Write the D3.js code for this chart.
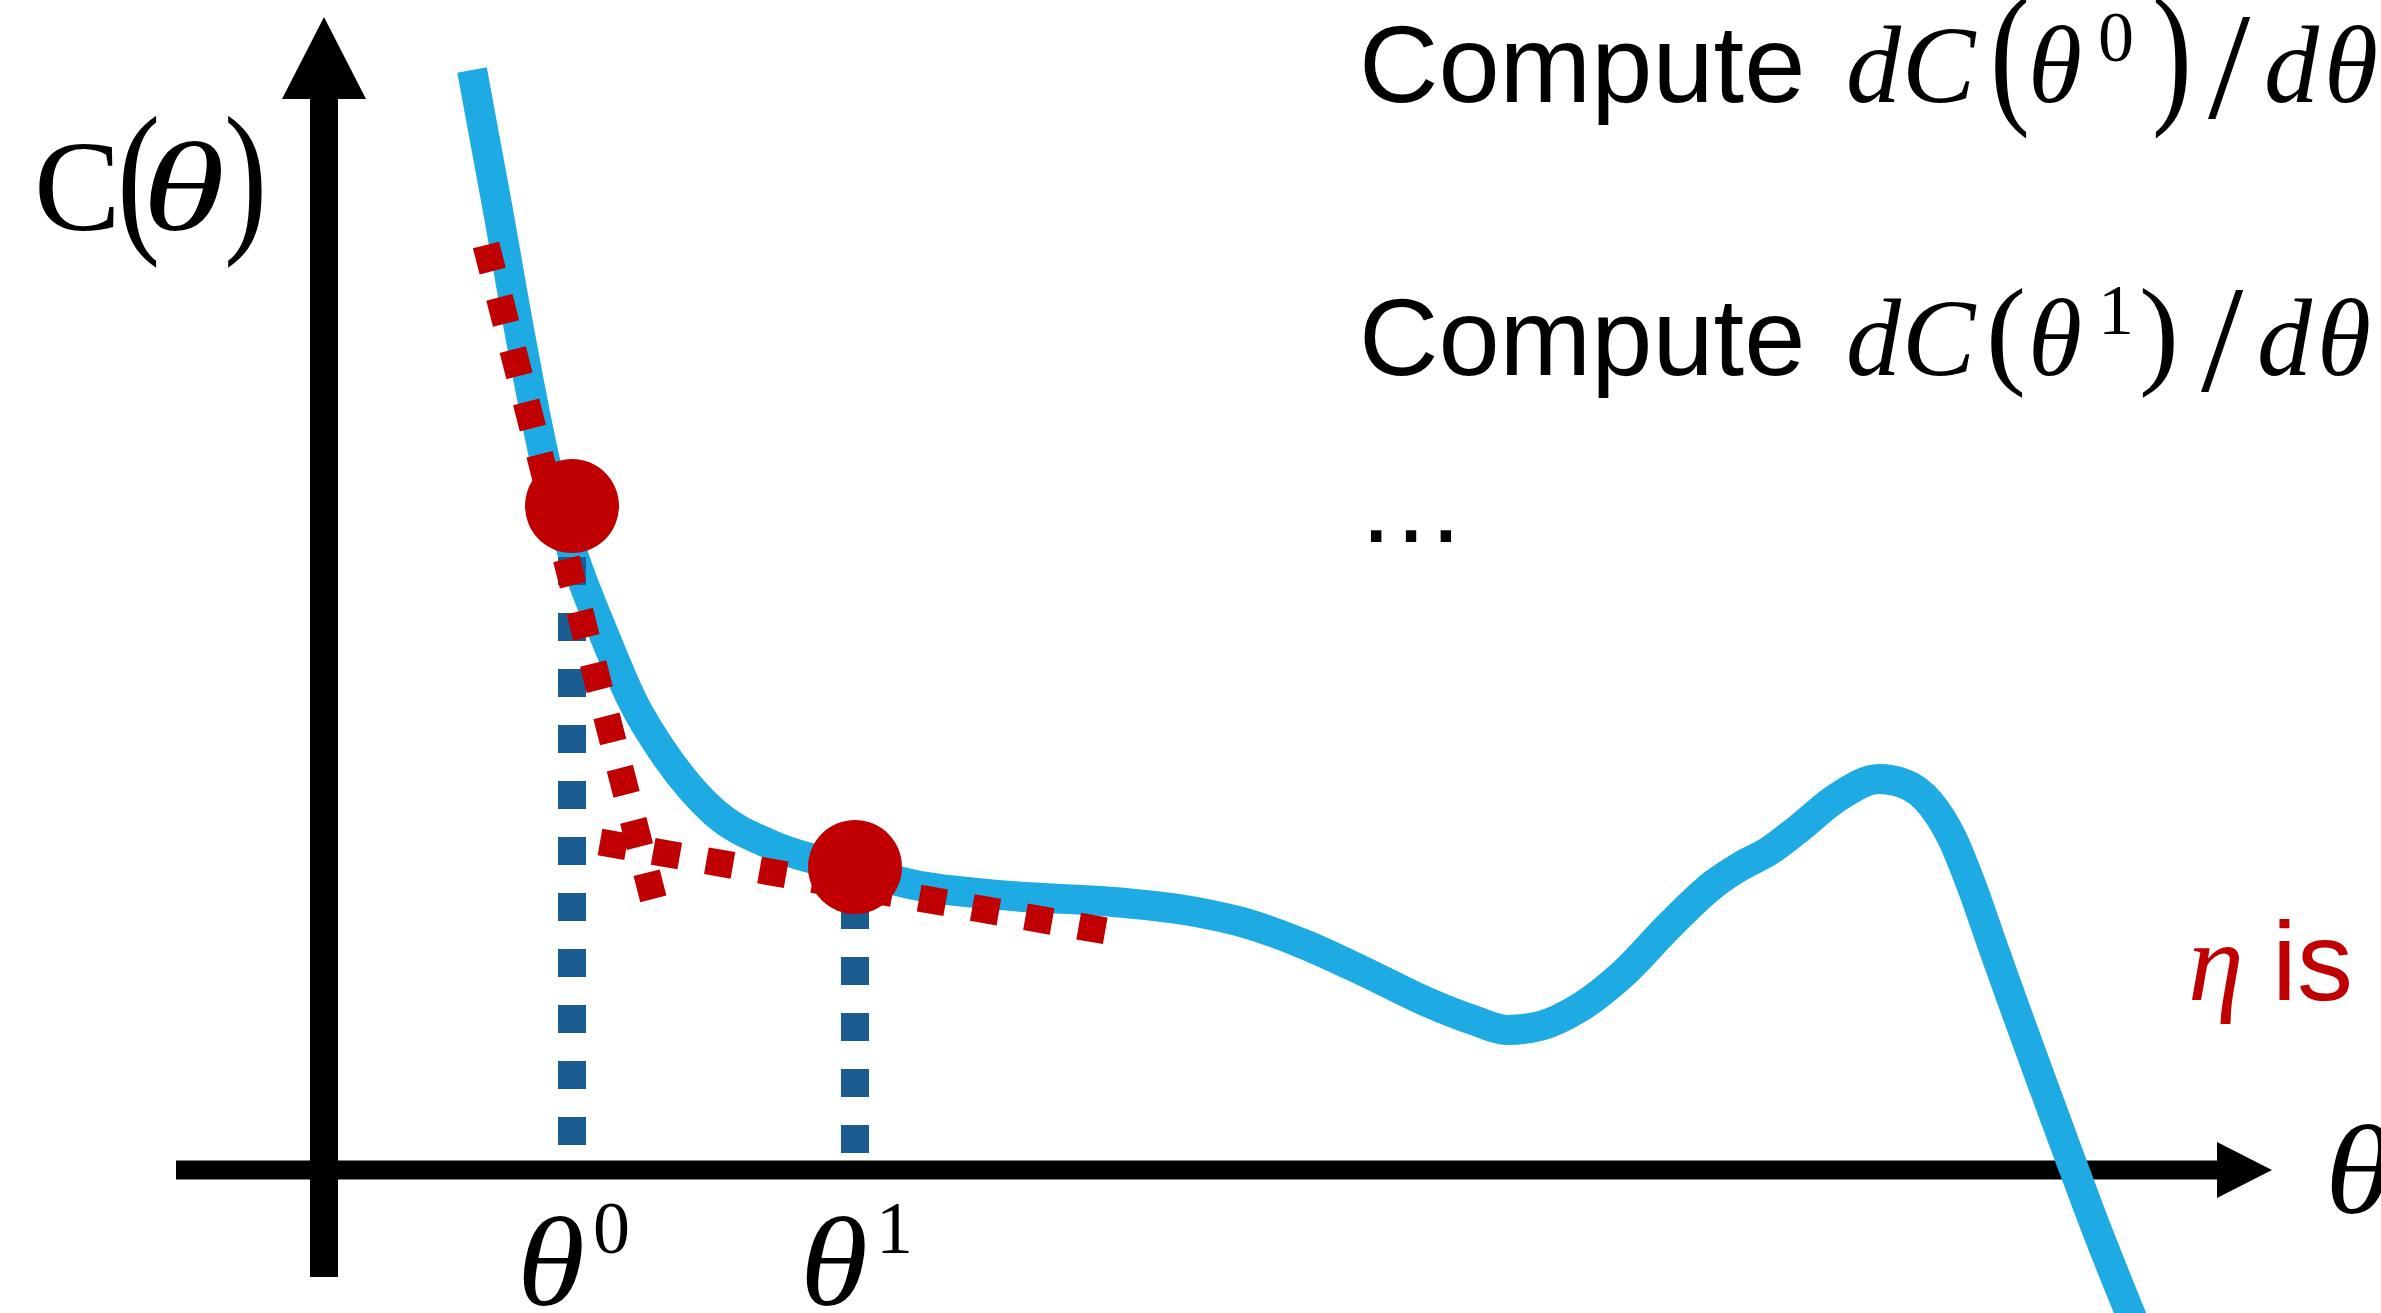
<!DOCTYPE html>
<html>
<head>
<meta charset="utf-8">
<script src="https://cdn.jsdelivr.net/npm/d3@7"></script>
<style>
  html, body { margin: 0; padding: 0; background: #fff; overflow: hidden; }
  svg { display: block; }
</style>
</head>
<body>
<svg id="chart" width="2381" height="1313"></svg>
<script>
// Cost curve C(θ): sampled (θ, C) pairs, joined with a monotone cubic.
const curveTheta = [1.48, 1.73, 1.97, 2.22, 2.51, 2.81, 3.08, 3.44, 3.90, 4.50, 5.31, 5.86, 6.88, 7.90, 8.72, 9.21, 9.82, 10.43, 11.03, 11.49, 11.83, 12.16, 12.55, 13.01, 13.46, 13.90, 14.17, 14.45, 14.73, 15.14, 15.55, 15.81, 16.06, 16.28, 16.48, 16.68, 16.88, 17.16, 17.44, 17.74, 18.06, 18.22];
const curveCost  = [11.00, 9.65, 8.30, 7.05, 6.10, 5.33, 4.70, 4.11, 3.58, 3.24, 3.01, 2.86, 2.74, 2.68, 2.58, 2.47, 2.25, 1.97, 1.68, 1.50, 1.40, 1.44, 1.62, 1.98, 2.45, 2.86, 3.04, 3.19, 3.40, 3.73, 3.91, 3.86, 3.67, 3.32, 2.83, 2.26, 1.70, 0.93, 0.17, -0.63, -1.43, -1.82];

// Gradient-descent iterates θ⁰, θ¹ and their cost values.
const iterSup   = ["0", "1"];
const iterTheta = [2.48, 5.31];
const iterCost  = [6.64, 3.03];
// Where the dotted drop lines to the θ axis stop.
const dropBase  = [0.25, 0.17];

// Tangent (slope) segments drawn at each iterate: [θ, C] end points.
const tangent0 = [[1.62, 9.25], [3.36, 2.45]];
const tangent1 = [[2.76, 3.28], [7.88, 2.38]];

// Axis extents in data units (arrow tips included).
const xAxisExtent = [-1.48, 19.48];
const yAxisExtent = [-1.07, 11.53];

// Iterate indices used in the update steps on the right.
const stepIters = ["0", "1"];

const svg = d3.select("#chart");

const x = d3.scaleLinear().domain([0, 20]).range([324, 2324]);
const y = d3.scaleLinear().domain([0, 11]).range([1170, 70]);

const SANS  = "'Liberation Sans', Arial, sans-serif";
const SERIF = "'Liberation Serif', 'Times New Roman', serif";
const RED = "#c00000", CURVE = "#1eaae2", DROP = "#1b5c91";

// ---- axes with arrowheads ----
const axes = svg.append("g");
const xArrowLen = 55, xArrowHalf = 28;
const yArrowLen = 82, yArrowHalf = 42;

axes.append("line")
  .attr("x1", x(xAxisExtent[0])).attr("x2", x(xAxisExtent[1]) - xArrowLen)
  .attr("y1", y(0)).attr("y2", y(0))
  .attr("stroke", "#000").attr("stroke-width", 19);
axes.append("path")
  .attr("d", `M${x(xAxisExtent[1])},${y(0)} L${x(xAxisExtent[1]) - xArrowLen},${y(0) - xArrowHalf} L${x(xAxisExtent[1]) - xArrowLen},${y(0) + xArrowHalf}Z`)
  .attr("fill", "#000");

axes.append("line")
  .attr("x1", x(0)).attr("x2", x(0))
  .attr("y1", y(yAxisExtent[0])).attr("y2", y(yAxisExtent[1]) + yArrowLen)
  .attr("stroke", "#000").attr("stroke-width", 28);
axes.append("path")
  .attr("d", `M${x(0)},${y(yAxisExtent[1])} L${x(0) - yArrowHalf},${y(yAxisExtent[1]) + yArrowLen} L${x(0) + yArrowHalf},${y(yAxisExtent[1]) + yArrowLen}Z`)
  .attr("fill", "#000");

// ---- cost curve ----
const curvePts = curveTheta.map((t, i) => [t, curveCost[i]]);
const line = d3.line().x(d => x(d[0])).y(d => y(d[1])).curve(d3.curveMonotoneX);
svg.append("path")
  .attr("d", line(curvePts))
  .attr("fill", "none")
  .attr("stroke", CURVE)
  .attr("stroke-width", 30)
  .attr("stroke-linecap", "butt");

// ---- dotted drop lines from each iterate to the θ axis (dashes start at the bottom) ----
iterTheta.forEach((t, i) => {
  svg.append("line")
    .attr("x1", x(t)).attr("y1", y(dropBase[i]))
    .attr("x2", x(t)).attr("y2", y(iterCost[i]))
    .attr("stroke", DROP).attr("stroke-width", 28)
    .attr("stroke-dasharray", "28,28");
});

// ---- dotted tangent segments ----
[tangent0, tangent1].forEach(seg => {
  svg.append("line")
    .attr("x1", x(seg[0][0])).attr("y1", y(seg[0][1]))
    .attr("x2", x(seg[1][0])).attr("y2", y(seg[1][1]))
    .attr("stroke", RED).attr("stroke-width", 27)
    .attr("stroke-dasharray", "27,27");
});

// ---- iterate markers ----
svg.selectAll("circle.iter")
  .data(iterTheta.map((t, i) => [t, iterCost[i]]))
  .join("circle")
  .attr("class", "iter")
  .attr("cx", d => x(d[0])).attr("cy", d => y(d[1]))
  .attr("r", 47)
  .attr("fill", RED);

// A delimiter glyph stretched vertically about its own centre (tall math brackets).
function tallGlyph(ch, gx, cy, size, sy) {
  const mid = size * 0.255;            // glyph centre sits ~0.255em above the baseline
  svg.append("text")
    .attr("transform", `translate(${gx},${cy}) scale(1,${sy})`)
    .attr("x", 0).attr("y", mid)
    .attr("font-family", SERIF).attr("font-size", size)
    .attr("fill", "#000")
    .text(ch);
}
// An italic glyph widened horizontally from its left edge.
function wideItalic(ch, gx, gy, size, sx) {
  return svg.append("text")
    .attr("transform", `translate(${gx},${gy}) scale(${sx},1)`)
    .attr("x", 0).attr("y", 0)
    .attr("font-family", SERIF).attr("font-style", "italic").attr("font-size", size)
    .attr("fill", "#000")
    .text(ch);
}

// ---- axis labels ----
// C(θ) on the vertical axis
svg.append("text").attr("x", 34).attr("y", 230)
  .attr("font-family", SERIF).attr("font-size", 130).text("C");
tallGlyph("(", 117, 189, 130, 1.29);
wideItalic("θ", 142, 230, 128, 1.32);
tallGlyph(")", 224, 189, 130, 1.29);

// θ at the end of the horizontal axis
wideItalic("θ", x(xAxisExtent[1]) + 53, 1213, 128, 1.08);

// θ⁰, θ¹ under the drop lines
iterTheta.forEach((t, i) => {
  wideItalic("θ", x(t) - 55, 1305, 128, 1.08);
  svg.append("text").attr("x", x(t) + 21).attr("y", 1253)
    .attr("font-family", SERIF).attr("font-size", 74).attr("fill", "#000")
    .text(iterSup[i]);
});

// ---- update steps: "Compute dC(θᵏ)/dθ" ----
function mathStep(yBase, sup, big, shift) {
  svg.append("text").attr("x", 1359).attr("y", yBase)
    .attr("font-family", SANS).attr("font-size", 110).attr("fill", "#000")
    .text("Compute");

  const it = (s, gx) => svg.append("text").attr("x", gx).attr("y", yBase)
    .attr("font-family", SERIF).attr("font-style", "italic").attr("font-size", 110)
    .attr("fill", "#000").text(s);

  it("d", 1846);
  it("C", 1902);
  // brackets: taller in the first step
  if (big) {
    tallGlyph("(", 1990, yBase - 37, 120, 1.3);
    tallGlyph(")", 2152, yBase - 37, 120, 1.3);
  } else {
    tallGlyph("(", 1986, yBase - 34, 120, 1.0);
    tallGlyph(")", 2146 + shift, yBase - 34, 120, 1.0);
  }
  it("θ", 2028);
  svg.append("text").attr("x", 2098).attr("y", yBase - 41)
    .attr("font-family", SERIF).attr("font-size", 72).attr("fill", "#000").text(sup);
  // long slash dropping below the baseline
  svg.append("text").attr("x", 2208 + shift).attr("y", yBase + 16)
    .attr("font-family", SERIF).attr("font-size", 152).attr("fill", "#000").text("/");
  it("d", 2264 + shift);
  it("θ", 2324 + shift);
}
mathStep(102, stepIters[0], true, 0);
mathStep(375, stepIters[1], false, -7);

svg.append("text")
  .attr("x", 1356).attr("y", 542)
  .attr("font-family", SANS).attr("font-size", 110)
  .text("…");

// ---- learning-rate note ----
const eta = svg.append("text").attr("y", 1000).attr("fill", RED);
eta.append("tspan").attr("x", 2188).attr("font-family", SERIF).attr("font-style", "italic")
  .attr("font-size", 112).text("η");
eta.append("tspan").attr("x", 2272).attr("font-family", SANS).attr("font-size", 112).text("is");
</script>
</body>
</html>
